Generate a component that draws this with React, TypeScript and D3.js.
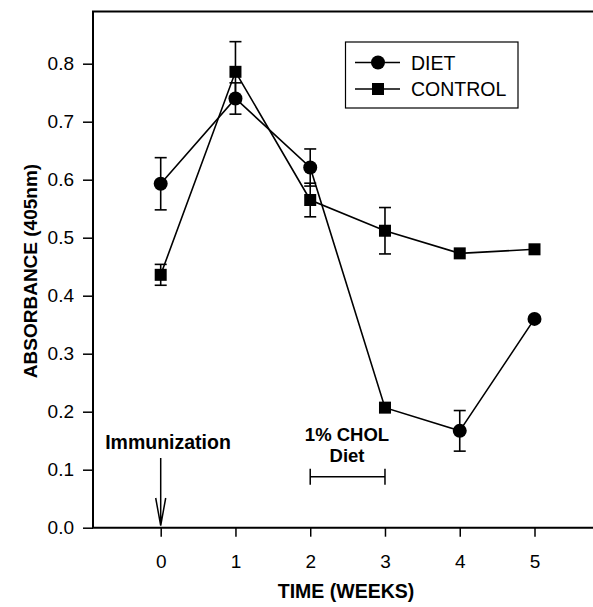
import React, { useEffect, useRef } from 'react';
import * as d3 from 'd3';

// weeks after immunization
const weeks = [0, 1, 2, 3, 4, 5];

// DIET series (mean, s.e.), week 3 point is drawn as a square in the original figure
const dietMean = [0.593, 0.740, 0.621, 0.207, 0.167, 0.360];
const dietErr = [0.045, 0.027, 0.032, 0, 0.035, 0];
const dietShape = ['circle', 'circle', 'circle', 'square', 'circle', 'circle'];

// CONTROL series
const controlMean = [0.436, 0.786, 0.565, 0.512, 0.473, 0.480];
const controlErr = [0.018, 0.052, 0.029, 0.040, 0, 0];
const controlShape = ['square', 'square', 'square', 'square', 'square', 'square'];

const yTicks = [0, 0.1, 0.2, 0.3, 0.4, 0.5, 0.6, 0.7, 0.8];
const legendItems = [
    {label: 'DIET', shape: 'circle'},
    {label: 'CONTROL', shape: 'square'}
];

const FONT = '"Liberation Sans", Arial, Helvetica, sans-serif';

export default function App() {
    const ref = useRef<SVGSVGElement>(null);

    useEffect(() => {
        document.body.style.margin = '0';
        const svg = d3.select(ref.current);
        svg.selectAll('*').remove();

        const left = 93, top = 11.5, bottom = 527.7, right = 593;

        const x = d3.scaleLinear().domain([0, 5]).range([160.7, 534.5]);
        const y = d3.scaleLinear().domain([0, 0.8]).range([bottom, 63.7]);

        // frame (left, top, bottom only)
        svg.append('path')
            .attr('d', `M${right},${top}H${left}V${bottom}H${right}`)
            .style('fill', 'none')
            .style('stroke', '#000')
            .style('stroke-width', 2);

        // y axis
        const yAxis = svg.append('g')
            .attr('transform', `translate(${left},0)`)
            .call(d3.axisLeft(y).tickValues(yTicks).tickSize(10).tickPadding(9).tickFormat(d3.format('.1f')));
        yAxis.select('.domain').remove();
        yAxis.selectAll('line').style('stroke-width', 1.5);
        yAxis.selectAll('text').style('font-family', FONT).style('font-size', '19px').attr('fill', '#000');

        // x axis
        const xAxis = svg.append('g')
            .attr('transform', `translate(0,${bottom})`)
            .call(d3.axisBottom(x).tickValues(weeks).tickSize(9).tickPadding(18).tickFormat(d3.format('d')));
        xAxis.select('.domain').remove();
        xAxis.selectAll('line').style('stroke-width', 1.5);
        xAxis.selectAll('text').style('font-family', FONT).style('font-size', '19px').attr('fill', '#000');

        // axis titles
        svg.append('text')
            .attr('transform', 'translate(37,271) rotate(-90)')
            .attr('text-anchor', 'middle')
            .style('font-family', FONT)
            .style('font-size', '19px')
            .style('font-weight', 'bold')
            .text('ABSORBANCE (405nm)');

        svg.append('text')
            .attr('x', 346)
            .attr('y', 598)
            .attr('text-anchor', 'middle')
            .style('font-family', FONT)
            .style('font-size', '19.5px')
            .style('font-weight', 'bold')
            .text('TIME (WEEKS)');

        const line = d3.line<number>()
            .x((d, i) => x(weeks[i]))
            .y(d => y(d));

        const drawMarker = (g, shape, cx, cy) => {
            if (shape === 'circle') {
                g.append('circle').attr('cx', cx).attr('cy', cy).attr('r', 7).attr('fill', '#000');
            } else {
                g.append('rect').attr('x', cx - 6).attr('y', cy - 6).attr('width', 12).attr('height', 12).attr('fill', '#000');
            }
        };

        const series = [
            {mean: dietMean, err: dietErr, shape: dietShape},
            {mean: controlMean, err: controlErr, shape: controlShape}
        ];

        series.forEach(s => {
            svg.append('path')
                .datum(s.mean)
                .attr('d', line)
                .style('fill', 'none')
                .style('stroke', '#000')
                .style('stroke-width', 1.6);
        });

        series.forEach(s => {
            const g = svg.append('g').style('stroke', '#000').style('stroke-width', 1.6);
            s.mean.forEach((m, i) => {
                if (!s.err[i]) return;
                const cx = x(weeks[i]);
                const y0 = y(m - s.err[i]), y1 = y(m + s.err[i]);
                g.append('line').attr('x1', cx).attr('x2', cx).attr('y1', y0).attr('y2', y1);
                g.append('line').attr('x1', cx - 6).attr('x2', cx + 6).attr('y1', y0).attr('y2', y0);
                g.append('line').attr('x1', cx - 6).attr('x2', cx + 6).attr('y1', y1).attr('y2', y1);
            });
        });

        series.forEach(s => {
            const g = svg.append('g');
            s.mean.forEach((m, i) => drawMarker(g, s.shape[i], x(weeks[i]), y(m)));
        });

        // legend
        svg.append('rect')
            .attr('x', 345.5).attr('y', 42).attr('width', 172.5).attr('height', 66)
            .style('fill', '#fff').style('stroke', '#000').style('stroke-width', 1.2);
        legendItems.forEach((item, i) => {
            const ly = 62.5 + i * 26.5;
            const g = svg.append('g');
            g.append('line').attr('x1', 355).attr('x2', 400).attr('y1', ly).attr('y2', ly)
                .style('stroke', '#000').style('stroke-width', 1.5);
            drawMarker(g, item.shape, 378, ly);
            g.append('text')
                .attr('x', 411)
                .attr('y', ly + 7)
                .style('font-family', FONT)
                .style('font-size', '19.5px')
                .text(item.label);
        });

        // immunization annotation
        svg.append('text')
            .attr('x', 168).attr('y', 449)
            .attr('text-anchor', 'middle')
            .style('font-family', FONT).style('font-size', '19.5px').style('font-weight', 'bold')
            .text('Immunization');
        const ax = x(0);
        svg.append('path')
            .attr('d', `M${ax},458V${bottom - 2}M${ax - 5},498L${ax},${bottom - 2}L${ax + 5},498`)
            .style('fill', 'none').style('stroke', '#000').style('stroke-width', 1.5);

        // diet period bracket
        const bx0 = x(2), bx1 = x(3), by = 476.7;
        svg.append('path')
            .attr('d', `M${bx0},${by - 8}V${by + 8}M${bx0},${by}H${bx1}M${bx1},${by - 8}V${by + 8}`)
            .style('fill', 'none').style('stroke', '#000').style('stroke-width', 1.5);
        svg.append('text')
            .attr('x', 347).attr('y', 441)
            .attr('text-anchor', 'middle')
            .style('font-family', FONT).style('font-size', '18.5px').style('font-weight', 'bold')
            .text('1% CHOL');
        svg.append('text')
            .attr('x', 347).attr('y', 462)
            .attr('text-anchor', 'middle')
            .style('font-family', FONT).style('font-size', '18.5px').style('font-weight', 'bold')
            .text('Diet');
    }, []);

    return <svg ref={ref} width={593} height={607} style={{display: 'block', background: '#fff'}} />;
}
